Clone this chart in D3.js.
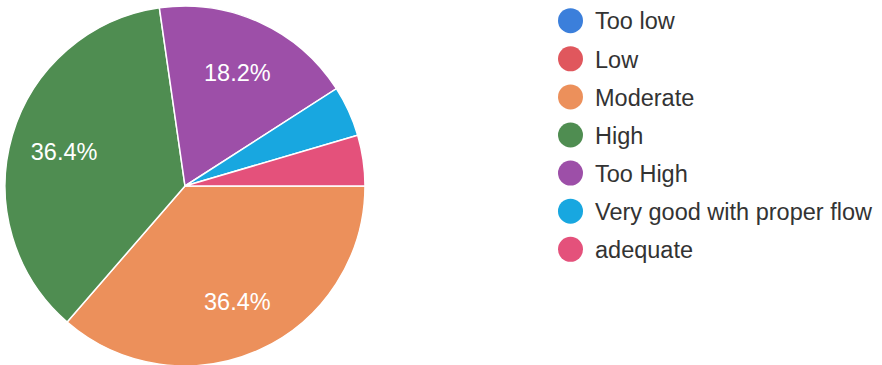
<!DOCTYPE html>
<html>
  <head>
    <meta charset="utf-8" />
    <script src="https://d3js.org/d3.v7.min.js"></script>
    <style>
      body { margin: 0; background: #fff; }
      text { font-family: "Liberation Sans", Arial, sans-serif; }
    </style>
  </head>
  <body>
    <div id="chart"></div>
    <script>
      // data (22 responses)
      var categories = ["Too low", "Low", "Moderate", "High", "Too High", "Very good with proper flow", "adequate"];
      var counts = [0, 0, 8, 8, 4, 1, 1];
      var colors = ["#3b7fdb", "#e0575d", "#ec905b", "#4f8d51", "#9d4fa8", "#18a7e0", "#e4517b"];

      var width = 882, height = 365;
      var cx = 185, cy = 186, radius = 180;

      var svg = d3.select("#chart").append("svg")
        .attr("width", width)
        .attr("height", height);

      var data = categories.map(function (c, i) {
        return { name: c, value: counts[i], color: colors[i] };
      });
      var total = d3.sum(counts);

      // slices start at 3 o'clock and run clockwise
      var pie = d3.pie()
        .sort(null)
        .value(function (d) { return d.value; })
        .startAngle(Math.PI / 2)
        .endAngle(Math.PI / 2 + 2 * Math.PI);

      var arc = d3.arc().innerRadius(0).outerRadius(radius);
      var labelArc = d3.arc().innerRadius(radius * 0.7).outerRadius(radius * 0.7);

      var g = svg.append("g").attr("transform", "translate(" + cx + "," + cy + ")");
      var arcs = pie(data).filter(function (d) { return d.value > 0; });

      g.selectAll("path")
        .data(arcs)
        .enter()
        .append("path")
        .attr("d", arc)
        .attr("fill", function (d) { return d.data.color; })
        .attr("stroke", "#fff")
        .attr("stroke-width", 1.5);

      // percentage labels only on the bigger slices
      g.selectAll("text.pct")
        .data(arcs.filter(function (d) { return d.value / total > 0.1; }))
        .enter()
        .append("text")
        .attr("class", "pct")
        .attr("transform", function (d) { return "translate(" + labelArc.centroid(d) + ")"; })
        .attr("text-anchor", "middle")
        .attr("dy", "0.42em")
        .attr("fill", "#fff")
        .style("font-size", "23.5px")
        .text(function (d) { return (d.value / total * 100).toFixed(1) + "%"; });

      // legend
      var y = d3.scalePoint().domain(categories).range([20.7, 249.3]);
      var legend = svg.append("g")
        .selectAll("g")
        .data(data)
        .enter()
        .append("g")
        .attr("transform", function (d) { return "translate(570.5," + y(d.name) + ")"; });

      legend.append("circle")
        .attr("r", 12.5)
        .attr("fill", function (d) { return d.color; });

      legend.append("text")
        .attr("x", 24.5)
        .attr("dy", "0.37em")
        .attr("fill", "#333")
        .style("font-size", "23.5px")
        .text(function (d) { return d.name; });
    </script>
  </body>
</html>
